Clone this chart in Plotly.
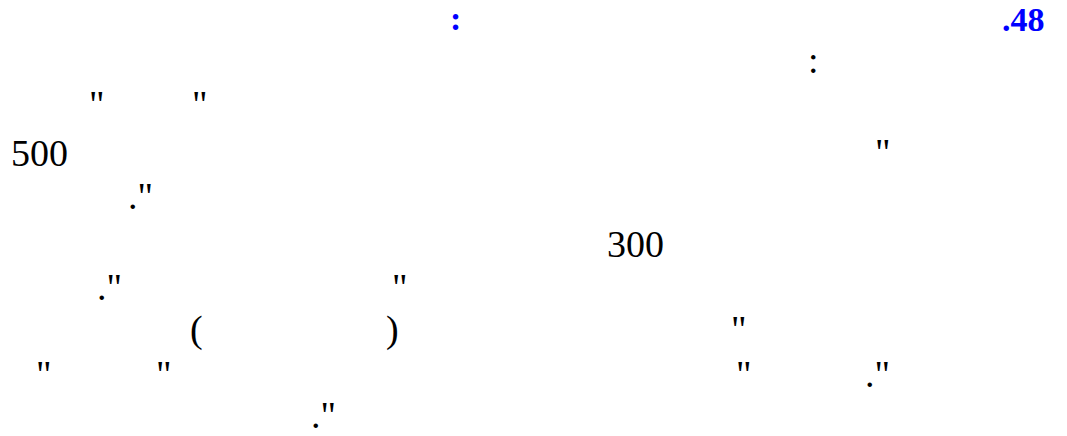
import plotly.graph_objects as go

W, H = 1067, 436
FONT = "Liberation Serif"
BODY_SIZE = 38
TITLE_SIZE = 34
SHIFT = 0.216  # baseline-to-box-bottom offset as a fraction of font size

# Title line (blue, bold)
title_texts = [".48", ":"]
title_x = [1045, 455]
title_anchor = ["right", "center"]
title_base = [31, 30]

# Body glyph clusters (text, centre x, baseline) -- the visible characters of the page
body_texts = [":", '"', '"', "500", '"', '."', "300", '."', '"', "(", ")", '"',
              '"', '"', '"', '."', '."']
body_x = [813, 97, 200, 39, 883, 140, 635, 109, 400, 196, 392, 739,
          44, 164, 744, 877, 323]
body_base = [73, 117, 117, 166, 165, 209, 257, 300, 300, 343, 343, 342,
             387, 387, 387, 387, 427.5]

fig = go.Figure()

def add_text(t, x, base, size, color, bold=False, anchor="center"):
    bottom = base + SHIFT * size
    fig.add_annotation(
        x=x / W, y=1 - bottom / H, xref="paper", yref="paper",
        text=("<b>%s</b>" % t) if bold else t,
        showarrow=False, xanchor=anchor, yanchor="bottom",
        borderpad=0, borderwidth=0,
        font=dict(family=FONT, size=size, color=color),
    )

for t, x, a, b in zip(title_texts, title_x, title_anchor, title_base):
    add_text(t, x, b, TITLE_SIZE, "#0000ff", bold=True, anchor=a)

for t, x, b in zip(body_texts, body_x, body_base):
    add_text(t, x, b, BODY_SIZE, "#000000")

fig.update_layout(
    width=W, height=H,
    margin=dict(l=0, r=0, t=0, b=0),
    paper_bgcolor="white", plot_bgcolor="white",
    xaxis=dict(visible=False, range=[0, 1]),
    yaxis=dict(visible=False, range=[0, 1]),
    showlegend=False,
    hovermode=False,
    font=dict(family=FONT),
)

# let the figure fill the whole window (no default 8px page margin)
fig.write_html(
    "out.html",
    config={"displayModeBar": False, "staticPlot": True},
    post_script="document.body.style.margin='0';document.body.style.overflow='hidden';",
)
